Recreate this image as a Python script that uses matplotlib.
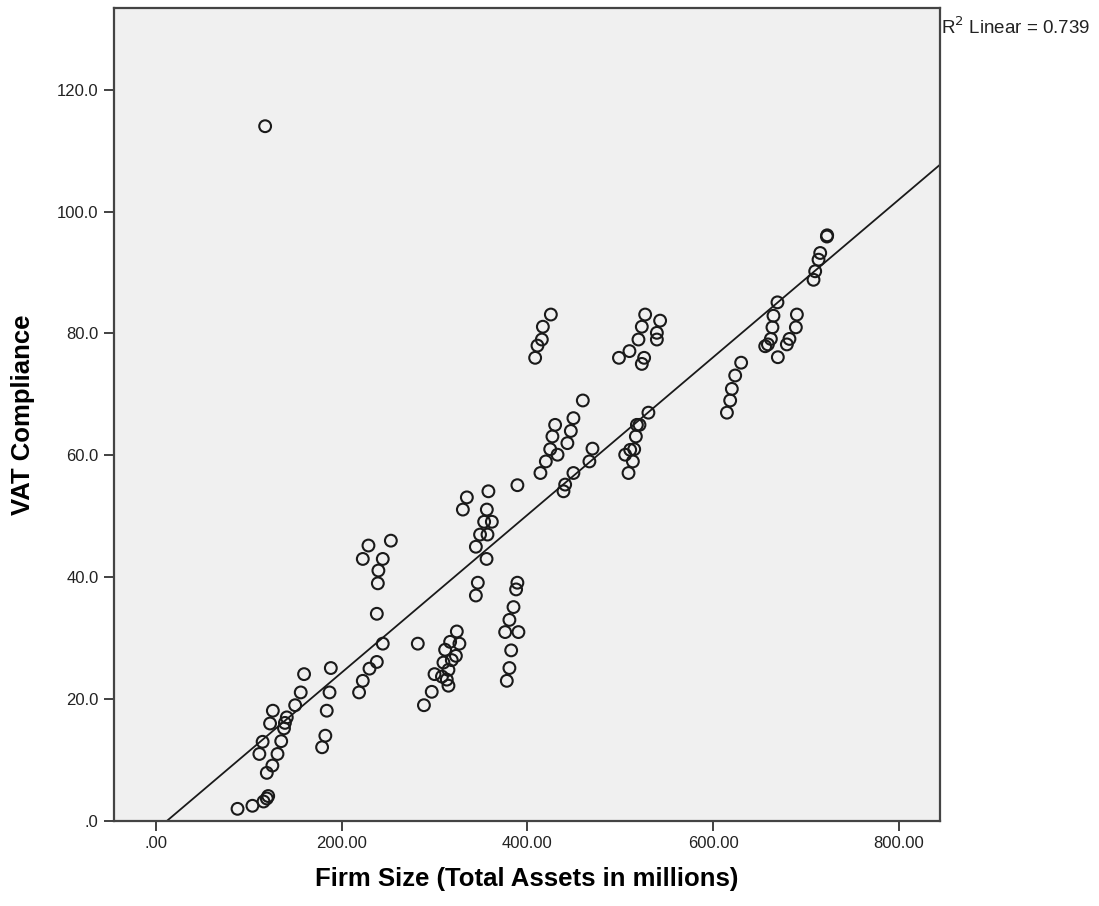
import matplotlib.pyplot as plt
import numpy as np

# Firm size (total assets, millions) and VAT compliance
firm_size = [
    88, 104, 116, 119.5, 121, 119.5, 125.5, 111.5, 131, 115, 135, 138, 139, 141,
    123, 126, 150, 156, 159.6,
    179, 182.5, 184, 187, 188.4,
    218.8, 222.8, 230, 237.9, 244.3, 237.9, 239, 239.6, 244.3, 222.8, 228.9, 253,
    282,
    288.6, 297, 300, 308, 313.2, 315, 309.6, 315, 318.6, 323, 311.4, 316.8, 326.8, 324,
    330.5, 334.8, 344.5, 346.6, 344.5, 349, 357, 353.4, 361.7, 356.3, 358, 356,
    389.2, 387.8, 385, 380.6, 376, 390.3, 382.5, 380.6, 377.8, 389.2,
    414, 419.8, 424.5, 432.4, 426.9, 429.8,
    408.3, 410.8, 415.5, 416.6, 425.2,
    438.8, 440.6, 449.5, 443, 446.7, 449.5, 459.6, 466.7, 470,
    498.5, 509.8, 519.5, 523.1, 526.7, 525.6, 523.1, 539.3, 539.3, 542.8,
    508.8, 513.5, 505.2, 510.6, 514.9, 516.7, 517.8, 520.6, 530.2,
    614.7, 618.2, 620, 623.6, 630,
    655.9, 658.8, 662, 663.7, 664.8, 669.1, 669.5, 679.2, 682, 688.9, 690,
    707.9, 709.7, 713.3, 715.1, 722.3, 722.6,
    117.7,
]
vat_compliance = [
    2.0, 2.5, 3.2, 3.7, 4.1, 7.9, 9.1, 11.0, 11.0, 13.0, 13.1, 15.2, 16.1, 17.0,
    16.0, 18.1, 19.0, 21.1, 24.1,
    12.1, 14.0, 18.1, 21.1, 25.1,
    21.1, 23.0, 25.0, 26.1, 29.1, 34.0, 39.0, 41.1, 43.0, 43.0, 45.2, 46.0,
    29.1,
    19.0, 21.2, 24.1, 23.7, 23.2, 22.2, 26.0, 24.8, 26.4, 27.1, 28.1, 29.4, 29.1, 31.1,
    51.1, 53.1, 45.0, 39.1, 37.0, 47.0, 47.0, 49.1, 49.1, 51.1, 54.1, 43.0,
    39.1, 38.0, 35.1, 33.0, 31.0, 31.0, 28.0, 25.1, 23.0, 55.1,
    57.1, 59.0, 61.0, 60.1, 63.1, 65.0,
    76.0, 78.0, 79.0, 81.1, 83.1,
    54.1, 55.2, 57.1, 62.0, 64.0, 66.1, 69.0, 59.0, 61.1,
    76.0, 77.1, 79.0, 81.1, 83.1, 76.0, 75.0, 79.0, 80.1, 82.1,
    57.1, 59.0, 60.1, 60.9, 61.0, 63.1, 65.0, 65.0, 67.0,
    67.0, 69.0, 70.9, 73.1, 75.2,
    77.9, 78.2, 79.1, 81.0, 82.9, 85.1, 76.1, 78.2, 79.1, 81.0, 83.1,
    88.8, 90.2, 92.1, 93.2, 95.9, 96.1,
    114.0,
]

# fit line as printed in the chart
fit_intercept = -1.53
fit_slope = 0.1294
r_squared = 0.739

x_ticks = [0, 200, 400, 600, 800]
x_tick_labels = [".00", "200.00", "400.00", "600.00", "800.00"]
y_ticks = [0, 20, 40, 60, 80, 100, 120]
y_tick_labels = [".0", "20.0", "40.0", "60.0", "80.0", "100.0", "120.0"]

plt.rcParams['font.family'] = ['Liberation Sans', 'DejaVu Sans']

fig = plt.figure(figsize=(10.99, 9.06), dpi=100)
ax = fig.add_axes([0.1037, 0.0938, 0.7516, 0.8974])
ax.set_facecolor('#f0f0f0')

ax.scatter(firm_size, vat_compliance, s=72, facecolors='none',
           edgecolors='#1a1a1a', linewidths=1.5, zorder=3)

x_min, x_max = -45, 844
line_x = np.array([x_min, x_max])
ax.plot(line_x, fit_intercept + fit_slope * line_x, color='#1a1a1a', lw=1.3, zorder=2)

ax.set_xlim(x_min, x_max)
ax.set_ylim(0, 133.4)

ax.set_xticks(x_ticks)
ax.set_xticklabels(x_tick_labels)
ax.set_yticks(y_ticks)
ax.set_yticklabels(y_tick_labels)
ax.tick_params(axis='both', direction='out', length=7, width=1.3,
               color='#333333', labelsize=12, labelcolor='#222222', pad=4)

for side in ['left', 'bottom', 'top', 'right']:
    ax.spines[side].set_color('#444444')
    ax.spines[side].set_linewidth(1.6)

ax.set_xlabel("Firm Size (Total Assets in millions)", fontsize=18.5,
              fontweight='bold', labelpad=11)
ax.set_ylabel("VAT Compliance", fontsize=18.5, fontweight='bold', labelpad=16)

fig.text(0.856, 0.970, "R$^2$ Linear = %.3f" % r_squared, fontsize=13.5,
         color='#222222', ha='left', va='center')

plt.savefig('out.png', dpi=100)
